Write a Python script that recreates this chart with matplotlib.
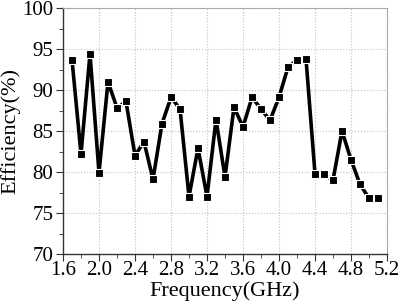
import matplotlib
matplotlib.use("Agg")
import matplotlib.pyplot as plt
from matplotlib.ticker import MultipleLocator

# frequency points (GHz) and measured efficiency (%)
freq = [1.7, 1.8, 1.9, 2.0, 2.1, 2.2, 2.3, 2.4, 2.5, 2.6, 2.7, 2.8, 2.9, 3.0,
        3.1, 3.2, 3.3, 3.4, 3.5, 3.6, 3.7, 3.8, 3.9, 4.0, 4.1, 4.2, 4.3, 4.4,
        4.5, 4.6, 4.7, 4.8, 4.9, 5.0, 5.1]
efficiency = [93.7, 82.2, 94.4, 79.9, 91.0, 87.8, 88.6, 82.0, 83.7, 79.1,
              85.9, 89.1, 87.7, 77.0, 82.9, 77.0, 86.4, 79.4, 87.9, 85.5,
              89.1, 87.7, 86.3, 89.1, 92.8, 93.6, 93.8, 79.8, 79.7, 79.0,
              85.0, 81.5, 78.5, 76.8, 76.8]
xtick_vals = [1.6, 2.0, 2.4, 2.8, 3.2, 3.6, 4.0, 4.4, 4.8, 5.2]
xtick_labels = ['1.6', '2.0', '2.4', '2.8', '3.2', '3.6', '4.0', '4.4', '4.8', '5.2']

plt.rcParams['font.family'] = ['Liberation Serif', 'DejaVu Serif']

fig = plt.figure(figsize=(4.01, 3.06), dpi=100)
ax = fig.add_axes([63 / 401, 1 - 254 / 306, (387 - 63) / 401, (254 - 8) / 306])

ax.plot(freq, efficiency, color='black', lw=2.6, marker='s', ms=5.8,
        mfc='black', mec='white', mew=0.8)

ax.set_xlim(1.6, 5.2)
ax.set_ylim(70, 100)
ax.set_xticks(xtick_vals)
ax.set_xticklabels(xtick_labels)
ax.xaxis.set_minor_locator(MultipleLocator(0.2))
ax.yaxis.set_major_locator(MultipleLocator(5))
ax.yaxis.set_minor_locator(MultipleLocator(2.5))

ax.grid(True, which='major', color='#c0c0c0', ls=':', lw=0.8)
ax.tick_params(which='both', direction='out', top=False, right=False,
               labelsize=15, color='#333333')
ax.tick_params(axis='x', pad=0)
ax.tick_params(axis='y', pad=2)
ax.tick_params(which='major', length=5)
ax.tick_params(which='minor', length=3)
for s in ['top', 'right']:
    ax.spines[s].set_color('#aaaaaa')
for s in ['left', 'bottom']:
    ax.spines[s].set_color('#333333')
    ax.spines[s].set_linewidth(1.0)

ax.set_xlabel('Frequency(GHz)', fontsize=16, labelpad=1)
ax.set_ylabel('Efficiency(%)', fontsize=16, labelpad=1)

fig.savefig('out.png', dpi=100)
